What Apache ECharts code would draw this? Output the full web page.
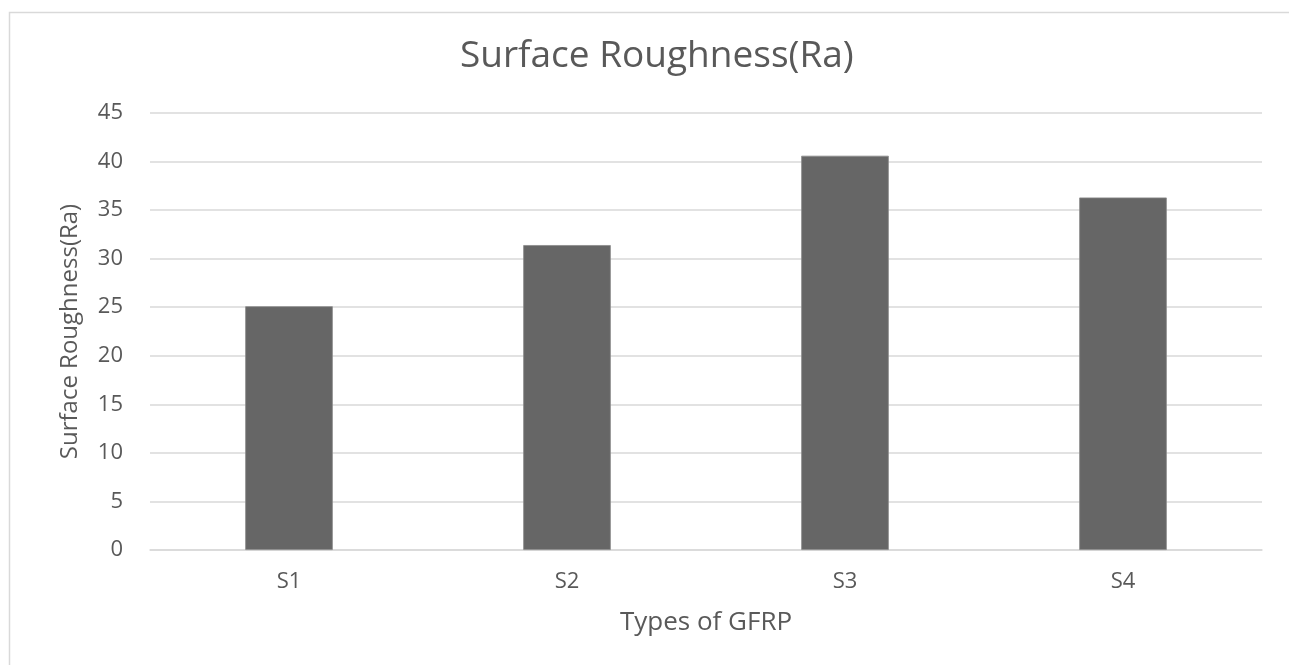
<!DOCTYPE html>
<html>
<head>
<meta charset="utf-8">
<script src="https://cdn.jsdelivr.net/npm/echarts@6/dist/echarts.min.js"></script>
<style>
html,body{margin:0;padding:0;background:#fff;}
#chart{width:1289px;height:665px;}
</style>
</head>
<body>
<div id="chart"></div>
<script>
const categories = ['S1', 'S2', 'S3', 'S4'];
const roughnessValues = [25.1, 31.4, 40.6, 36.3];
const yTicks = { min: 0, max: 45, interval: 5 };
const titleText = 'Surface Roughness(Ra)';
const xAxisTitle = 'Types of GFRP';
const yAxisTitle = 'Surface Roughness(Ra)';

const font = 'Open Sans';
const textColor = '#595959';

const chart = echarts.init(document.getElementById('chart'));
chart.setOption({
  backgroundColor: '#ffffff',
  animation: false,
  graphic: [{
    type: 'rect',
    shape: { x: 9.5, y: 12.5, width: 1300, height: 700 },
    style: { fill: 'none', stroke: '#d9d9d9', lineWidth: 1.5 },
    silent: true
  }],
  title: {
    text: titleText,
    left: 455,
    top: 33,
    textStyle: { fontFamily: font, fontSize: 37, fontWeight: 'normal', color: textColor }
  },
  grid: { left: 150, right: 27, top: 113, bottom: 115, containLabel: false },
  xAxis: {
    type: 'category',
    data: categories,
    name: xAxisTitle,
    nameLocation: 'middle',
    nameGap: 60,
    nameTextStyle: { fontFamily: font, fontSize: 26, color: textColor },
    axisLine: { show: true, lineStyle: { color: '#d9d9d9', width: 1.5 } },
    axisTick: { show: false },
    axisLabel: { fontFamily: font, fontSize: 22, color: textColor, margin: 21 }
  },
  yAxis: {
    type: 'value',
    min: yTicks.min,
    max: yTicks.max,
    interval: yTicks.interval,
    name: yAxisTitle,
    nameLocation: 'middle',
    nameRotate: 90,
    nameGap: 68,
    nameTextStyle: { fontFamily: font, fontSize: 24, color: textColor },
    axisLine: { show: false },
    axisTick: { show: false },
    axisLabel: { fontFamily: font, fontSize: 22, color: textColor, margin: 27 },
    splitLine: { lineStyle: { color: '#d9d9d9', width: 1.5 } }
  },
  series: [{
    type: 'bar',
    data: roughnessValues,
    barWidth: '31.5%',
    itemStyle: { color: '#666666', borderColor: '#8a8a8a', borderWidth: 0.8 }
  }]
});
</script>
</body>
</html>
